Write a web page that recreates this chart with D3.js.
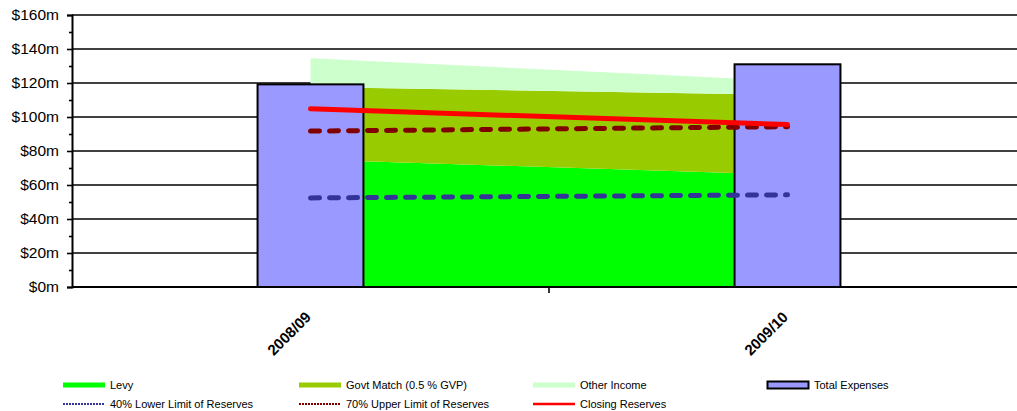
<!DOCTYPE html>
<html>
<head>
<meta charset="utf-8">
<script src="https://cdn.jsdelivr.net/npm/d3@7"></script>
<style>
  body { margin: 0; background: #fff; }
  svg { display: block; font-family: Arial, "Liberation Sans", sans-serif; }
</style>
</head>
<body>
<div id="chart"></div>
<script>
// values ($ millions)
const categories = ['2008/09', '2009/10'];
const levy = [75, 66];
const govtMatch = [42.7, 47];
const otherIncome = [16.8, 8.2];
const totalExpenses = [119.2, 131];
const lowerLimit = [52.4, 54.2];
const upperLimit = [91.7, 94.3];
const closingReserves = [104.8, 95.6];
const yTicks = [0, 20, 40, 60, 80, 100, 120, 140, 160];
const yMinorTicks = [10, 30, 50, 70, 90, 110, 130, 150];

const width = 1017, height = 411;
const plot = { left: 72, top: 15, right: 1026, bottom: 287 };

const svg = d3.select('#chart')
    .append('svg')
    .attr('width', width)
    .attr('height', height);

const x = d3.scaleBand()
    .domain(categories)
    .range([plot.left, plot.right])
    .padding(0);
const cx = c => x(c) + x.bandwidth() / 2;
const barW = x.bandwidth() * 0.222;

const y = d3.scaleLinear()
    .domain([0, 160])
    .range([plot.bottom, plot.top]);

// gridlines
svg.append('g')
    .selectAll('line')
    .data(yTicks.filter(d => d > 0))
    .join('line')
    .attr('x1', plot.left)
    .attr('x2', plot.right)
    .attr('y1', d => y(d))
    .attr('y2', d => y(d))
    .attr('stroke', '#000')
    .attr('stroke-width', 1.6);

// stacked income areas
const rows = categories.map((c, i) => ({
    cat: c, levy: levy[i], govt: govtMatch[i], other: otherIncome[i]
}));
const stack = d3.stack().keys(['levy', 'govt', 'other'])(rows);
const areaColors = { levy: '#00FF00', govt: '#99CC00', other: '#CCFFCC' };
const area = d3.area()
    .x(d => cx(d.data.cat))
    .y0(d => y(d[0]))
    .y1(d => y(d[1]));

svg.append('g')
    .selectAll('path')
    .data(stack)
    .join('path')
    .attr('fill', d => areaColors[d.key])
    .attr('d', area);

// expense bars
svg.append('g')
    .selectAll('rect')
    .data(categories)
    .join('rect')
    .attr('x', d => cx(d) - barW / 2)
    .attr('width', barW)
    .attr('y', (d, i) => y(totalExpenses[i]))
    .attr('height', (d, i) => y(0) - y(totalExpenses[i]))
    .attr('fill', '#9999FF')
    .attr('stroke', '#000')
    .attr('stroke-width', 2);

// reserve lines
const line = d3.line()
    .x((d, i) => cx(categories[i]))
    .y(d => y(d));

const lineSeries = [
    { values: lowerLimit, color: '#333399', dash: '9,10' },
    { values: upperLimit, color: '#800000', dash: '9,10' },
    { values: closingReserves, color: '#FF0000', dash: null }
];

svg.append('g')
    .selectAll('path')
    .data(lineSeries)
    .join('path')
    .attr('fill', 'none')
    .attr('stroke', d => d.color)
    .attr('stroke-width', 5)
    .attr('stroke-linecap', 'round')
    .attr('stroke-dasharray', d => d.dash)
    .attr('d', d => line(d.values));

// y axis
const yAxis = svg.append('g')
    .attr('transform', `translate(${plot.left},0)`)
    .call(d3.axisLeft(y).tickValues(yTicks).tickSize(5).tickPadding(8).tickFormat(d => `$${d}m`));
yAxis.select('.domain').attr('stroke', '#000').attr('stroke-width', 2);
yAxis.selectAll('.tick line').attr('stroke', '#000').attr('stroke-width', 1.6);
yAxis.selectAll('.tick text')
    .attr('font-size', 15.5)
    .attr('fill', '#000')
    .attr('font-family', 'Arial, "Liberation Sans", sans-serif');

svg.append('g')
    .attr('transform', `translate(${plot.left},0)`)
    .call(d3.axisLeft(y).tickValues(yMinorTicks).tickSize(3).tickFormat(''))
    .call(g => g.select('.domain').remove())
    .selectAll('.tick line').attr('stroke', '#000').attr('stroke-width', 1.6);

// x axis
const xAxis = svg.append('g')
    .attr('transform', `translate(0,${plot.bottom})`);
xAxis.append('line')
    .attr('x1', plot.left)
    .attr('x2', plot.right)
    .attr('stroke', '#000')
    .attr('stroke-width', 2);
xAxis.selectAll('line.tick')
    .data(categories.slice(1))
    .join('line')
    .attr('class', 'tick')
    .attr('x1', d => x(d))
    .attr('x2', d => x(d))
    .attr('y1', 0)
    .attr('y2', 6)
    .attr('stroke', '#000')
    .attr('stroke-width', 1.6);
xAxis.selectAll('text')
    .data(categories)
    .join('text')
    .attr('transform', d => `translate(${cx(d) + 1.5},${31}) rotate(-45)`)
    .attr('text-anchor', 'end')
    .attr('font-size', 15)
    .attr('font-weight', 'bold')
    .attr('fill', '#000')
    .text(d => d);

// legend
const legendItems = [
    { label: 'Levy', type: 'area', color: '#00FF00' },
    { label: 'Govt Match (0.5 % GVP)', type: 'area', color: '#99CC00' },
    { label: 'Other Income', type: 'area', color: '#CCFFCC' },
    { label: 'Total Expenses', type: 'bar', color: '#9999FF' },
    { label: '40% Lower Limit of Reserves', type: 'dash', color: '#333399' },
    { label: '70% Upper Limit of Reserves', type: 'dash', color: '#800000' },
    { label: 'Closing Reserves', type: 'line', color: '#FF0000' }
];
const legendCols = [63, 299, 533, 767];
const legendRows = [385, 404];

const legend = svg.append('g')
    .selectAll('g')
    .data(legendItems)
    .join('g')
    .attr('transform', (d, i) => `translate(${legendCols[i % 4]},${legendRows[Math.floor(i / 4)]})`);

legend.each(function(d) {
    const g = d3.select(this);
    if (d.type === 'area') {
        g.append('rect').attr('x', 0).attr('y', -2.5).attr('width', 42).attr('height', 5).attr('fill', d.color);
    } else if (d.type === 'bar') {
        g.append('rect').attr('x', 0.5).attr('y', -3.5).attr('width', 41).attr('height', 7)
            .attr('fill', d.color).attr('stroke', '#000').attr('stroke-width', 2);
    } else {
        g.append('line').attr('x1', 0).attr('x2', 42).attr('y1', 0).attr('y2', 0)
            .attr('stroke', d.color).attr('stroke-width', d.type === 'line' ? 2.5 : 2)
            .attr('stroke-dasharray', d.type === 'dash' ? '2,1' : null);
    }
    g.append('text')
        .attr('x', 47)
        .attr('dy', '0.35em')
        .attr('font-size', 11)
        .attr('fill', '#000')
        .text(d.label);
});
</script>
</body>
</html>
